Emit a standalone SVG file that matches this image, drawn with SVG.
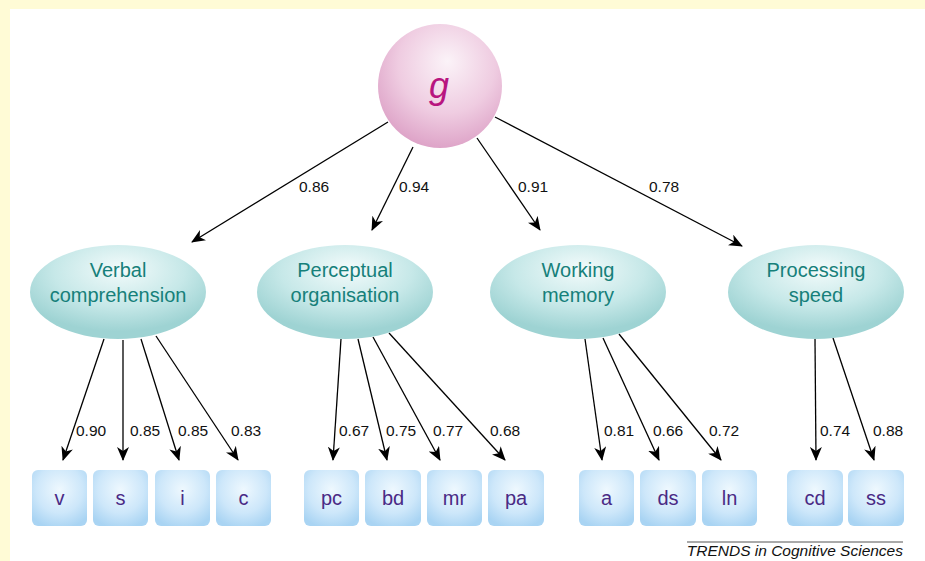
<svg xmlns="http://www.w3.org/2000/svg" width="925" height="561" viewBox="0 0 925 561">
<defs>
<radialGradient id="gSphere" cx="0.55" cy="0.35" r="0.65" fx="0.56" fy="0.3">
<stop offset="0" stop-color="#FBF3F8"/>
<stop offset="0.6" stop-color="#EFCCE1"/>
<stop offset="1" stop-color="#DEA4C8"/>
</radialGradient>
<radialGradient id="gEll" cx="0.5" cy="0.3" r="0.62" fx="0.52" fy="0.25">
<stop offset="0" stop-color="#F3FBFB"/>
<stop offset="0.6" stop-color="#C6E8E8"/>
<stop offset="1" stop-color="#9ED3D3"/>
</radialGradient>
<radialGradient id="gBox" cx="0.5" cy="0.35" r="0.7">
<stop offset="0" stop-color="#EEF8FE"/>
<stop offset="0.6" stop-color="#CDE7FA"/>
<stop offset="1" stop-color="#A9D4F3"/>
</radialGradient>
<marker id="arr" markerUnits="userSpaceOnUse" markerWidth="14" markerHeight="12" viewBox="0 0 14 12" refX="13" refY="6" orient="auto">
<path d="M0,0 L14,6 L0,12 L4,6 z" fill="#000"/>
</marker>
<style>
.conn line{stroke:#000;stroke-width:1.3;marker-end:url(#arr)}
.w{font-family:"Liberation Sans",Arial,sans-serif;font-size:15.5px;fill:#111}
.lat{fill:url(#gEll)}
.lt{font-family:"Liberation Sans",Arial,sans-serif;font-size:20px;fill:#16807A;text-anchor:middle}
.box{fill:url(#gBox)}
.bt{font-family:"Liberation Sans",Arial,sans-serif;font-size:20px;fill:#4A2A85;text-anchor:middle}
</style>
</defs>
<rect x="0" y="0" width="925" height="561" fill="#FFFBD6"/>
<rect x="10" y="9" width="915" height="552" fill="#FFFFFF"/>

<g id="conn" class="conn">
<line x1="388" y1="122" x2="192" y2="242"/>
<line x1="413" y1="147" x2="372" y2="230"/>
<line x1="477" y1="138" x2="540" y2="230"/>
<line x1="495" y1="117" x2="742" y2="246"/>
<line x1="104" y1="339" x2="63" y2="460"/>
<line x1="123" y1="340" x2="123" y2="460"/>
<line x1="141" y1="339" x2="179" y2="460"/>
<line x1="156" y1="336" x2="238" y2="460"/>
<line x1="341" y1="339" x2="333" y2="460"/>
<line x1="358" y1="339" x2="387" y2="460"/>
<line x1="373" y1="337" x2="440" y2="460"/>
<line x1="389" y1="333" x2="505" y2="460"/>
<line x1="585" y1="339" x2="602" y2="460"/>
<line x1="603" y1="338" x2="659" y2="460"/>
<line x1="619" y1="334" x2="721" y2="460"/>
<line x1="815" y1="339" x2="816" y2="460"/>
<line x1="833" y1="338" x2="874" y2="460"/>
</g>

<g id="weights">
<text class="w" x="299" y="192">0.86</text>
<text class="w" x="399" y="192">0.94</text>
<text class="w" x="518" y="192">0.91</text>
<text class="w" x="649" y="192">0.78</text>
<text class="w" x="76" y="436">0.90</text>
<text class="w" x="130" y="436">0.85</text>
<text class="w" x="178" y="436">0.85</text>
<text class="w" x="231" y="436">0.83</text>
<text class="w" x="339" y="436">0.67</text>
<text class="w" x="386" y="436">0.75</text>
<text class="w" x="433" y="436">0.77</text>
<text class="w" x="490" y="436">0.68</text>
<text class="w" x="604" y="436">0.81</text>
<text class="w" x="653" y="436">0.66</text>
<text class="w" x="709" y="436">0.72</text>
<text class="w" x="820" y="436">0.74</text>
<text class="w" x="873" y="436">0.88</text>
</g>

<g id="g">
<circle cx="440" cy="86" r="62" fill="url(#gSphere)"/>
<text x="439" y="98" font-family="Liberation Sans,Arial,sans-serif" font-size="36" font-style="italic" fill="#B8157F" text-anchor="middle">g</text>
</g>

<g id="verbal">
<ellipse class="lat" cx="118" cy="292" rx="88" ry="47"/>
<text class="lt" x="118" y="277">Verbal</text>
<text class="lt" x="118" y="302">comprehension</text>
</g>
<g id="perceptual">
<ellipse class="lat" cx="345" cy="292" rx="88" ry="47"/>
<text class="lt" x="345" y="277">Perceptual</text>
<text class="lt" x="345" y="302">organisation</text>
</g>
<g id="working">
<ellipse class="lat" cx="578" cy="292" rx="88" ry="47"/>
<text class="lt" x="578" y="277">Working</text>
<text class="lt" x="578" y="302">memory</text>
</g>
<g id="processing">
<ellipse class="lat" cx="816" cy="292" rx="88" ry="47"/>
<text class="lt" x="816" y="277">Processing</text>
<text class="lt" x="816" y="302">speed</text>
</g>

<g id="v"><rect class="box" x="32" y="470" width="55" height="56" rx="6"/><text class="bt" x="59.5" y="505">v</text></g>
<g id="s"><rect class="box" x="93" y="470" width="55" height="56" rx="6"/><text class="bt" x="120.5" y="505">s</text></g>
<g id="i"><rect class="box" x="155" y="470" width="55" height="56" rx="6"/><text class="bt" x="182.5" y="505">i</text></g>
<g id="c"><rect class="box" x="216" y="470" width="55" height="56" rx="6"/><text class="bt" x="243.5" y="505">c</text></g>
<g id="pc"><rect class="box" x="304" y="470" width="55" height="56" rx="6"/><text class="bt" x="331.5" y="505">pc</text></g>
<g id="bd"><rect class="box" x="365" y="470" width="56" height="56" rx="6"/><text class="bt" x="393" y="505">bd</text></g>
<g id="mr"><rect class="box" x="427" y="470" width="55" height="56" rx="6"/><text class="bt" x="454.5" y="505">mr</text></g>
<g id="pa"><rect class="box" x="488" y="470" width="56" height="56" rx="6"/><text class="bt" x="516" y="505">pa</text></g>
<g id="a"><rect class="box" x="579" y="470" width="55" height="56" rx="6"/><text class="bt" x="606.5" y="505">a</text></g>
<g id="ds"><rect class="box" x="640" y="470" width="56" height="56" rx="6"/><text class="bt" x="668" y="505">ds</text></g>
<g id="ln"><rect class="box" x="702" y="470" width="55" height="56" rx="6"/><text class="bt" x="729.5" y="505">ln</text></g>
<g id="cd"><rect class="box" x="787" y="470" width="56" height="56" rx="6"/><text class="bt" x="815" y="505">cd</text></g>
<g id="ss"><rect class="box" x="848" y="470" width="56" height="56" rx="6"/><text class="bt" x="876" y="505">ss</text></g>

<g id="footer">
<line x1="687" y1="542" x2="903" y2="542" stroke="#555" stroke-width="1"/>
<text x="903" y="556" font-family="Liberation Sans,Arial,sans-serif" font-size="15.5" font-style="italic" fill="#111" text-anchor="end">TRENDS in Cognitive Sciences</text>
</g>
</svg>
